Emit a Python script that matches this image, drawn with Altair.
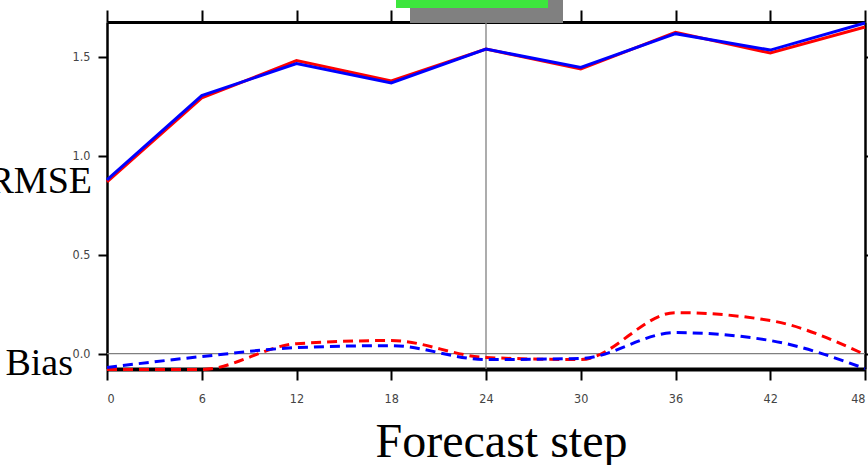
import altair as alt
import pandas as pd

# ---- data ----
steps = [0, 6, 12, 18, 24, 30, 36, 42, 48]
rmse_red = [0.869, 1.293, 1.482, 1.379, 1.540, 1.439, 1.625, 1.520, 1.652]
rmse_blue = [0.879, 1.305, 1.467, 1.369, 1.540, 1.447, 1.618, 1.535, 1.672]
bias_red = [-0.080, -0.080, 0.050, 0.066, -0.020, -0.030, 0.207, 0.167, -0.005]
bias_blue = [-0.070, -0.015, 0.030, 0.040, -0.030, -0.025, 0.106, 0.066, -0.076]
y_ticks = [0.0, 0.5, 1.0, 1.5]
x_title = "Forecast step"
rmse_label = "RMSE"
bias_label = "Bias"

RED = "#ff0000"
BLUE = "#0000ff"
GRID = "#808080"
TICK_FONT = "Liberation Sans Narrow, DejaVu Sans Condensed, Arial Narrow, sans-serif"
SERIF = "Liberation Serif, Times New Roman, serif"

xs = alt.Scale(domain=[0, 48], nice=False, zero=False)
ys = alt.Scale(domain=[-0.078, 1.677], nice=False, zero=False)

def frame(vals):
    return pd.DataFrame({"step": steps, "value": vals})

ax_bottom = alt.Axis(
    orient="bottom", values=steps, grid=False, format="d",
    tickSize=11, tickWidth=2, tickColor="black",
    domainWidth=4, domainColor="black",
    labelFont=TICK_FONT, labelFontSize=12.5, labelColor="#444444", labelPadding=12,
    title=x_title, titleFont=SERIF, titleFontSize=48, titleFontWeight="normal",
    titleColor="black", titleX=394, titleY=87, titleBaseline="alphabetic",
)
ax_top = alt.Axis(
    orient="top", values=steps, grid=False, labels=False, title=None,
    tickSize=12, tickWidth=2, tickColor="black",
    domainWidth=3, domainColor="black",
)
ax_left = alt.Axis(
    orient="left", values=y_ticks, grid=False, format=".1f", title=None,
    tickSize=9, tickWidth=2, tickColor="black",
    domainWidth=2.5, domainColor="black",
    labelFont=TICK_FONT, labelFontSize=12.5, labelColor="#444444", labelPadding=8,
)
ax_right = alt.Axis(
    orient="right", values=y_ticks, grid=False, labels=False, title=None,
    tickSize=9, tickWidth=2, tickColor="black",
    domainWidth=2.5, domainColor="black",
)

zero_rule = alt.Chart(pd.DataFrame({"v": [0.0]})).mark_rule(
    color=GRID, strokeWidth=1.3
).encode(y=alt.Y("v:Q", scale=ys, axis=None))

mid_rule = alt.Chart(pd.DataFrame({"s": [24]})).mark_rule(
    color=GRID, strokeWidth=1.3
).encode(x=alt.X("s:Q", scale=xs, axis=None))

rmse_r = alt.Chart(frame(rmse_red)).mark_line(color=RED, strokeWidth=3).encode(
    x=alt.X("step:Q", scale=xs, axis=ax_bottom),
    y=alt.Y("value:Q", scale=ys, axis=ax_left),
)
rmse_b = alt.Chart(frame(rmse_blue)).mark_line(color=BLUE, strokeWidth=3).encode(
    x=alt.X("step:Q", scale=xs, axis=ax_top),
    y=alt.Y("value:Q", scale=ys, axis=ax_right),
)
bias_r = alt.Chart(frame(bias_red)).mark_line(
    color=RED, strokeWidth=3, strokeDash=[10, 6], interpolate="monotone"
).encode(
    x=alt.X("step:Q", scale=xs, axis=None),
    y=alt.Y("value:Q", scale=ys, axis=None),
)
bias_b = alt.Chart(frame(bias_blue)).mark_line(
    color=BLUE, strokeWidth=3, strokeDash=[10, 6], interpolate="monotone"
).encode(
    x=alt.X("step:Q", scale=xs, axis=None),
    y=alt.Y("value:Q", scale=ys, axis=None),
)

rmse_txt = alt.Chart(pd.DataFrame({"t": [rmse_label]})).mark_text(
    font=SERIF, fontSize=38, align="right", baseline="alphabetic", color="black"
).encode(text="t:N", x=alt.value(-15), y=alt.value(171))

bias_txt = alt.Chart(pd.DataFrame({"t": [bias_label]})).mark_text(
    font=SERIF, fontSize=38, align="right", baseline="alphabetic", color="black"
).encode(text="t:N", x=alt.value(-34), y=alt.value(353))

# truncated legend box at the top
legend_box = alt.Chart(pd.DataFrame({"k": [1]})).mark_rect(color="#808080").encode(
    x=alt.value(303), x2=alt.value(456), y=alt.value(-22), y2=alt.value(1)
)
legend_swatch = alt.Chart(pd.DataFrame({"k": [1]})).mark_rect(color="#3de63d").encode(
    x=alt.value(289), x2=alt.value(441), y=alt.value(-22), y2=alt.value(-14)
)

chart = alt.layer(
    zero_rule, mid_rule, rmse_r, rmse_b, bias_r, bias_b,
    rmse_txt, bias_txt, legend_box, legend_swatch,
).resolve_axis(x="independent", y="independent").properties(
    width=758, height=347,
    padding={"left": 107, "top": 22, "right": 3, "bottom": 96},
    autosize="none", background="white",
).configure_view(stroke=None)

chart.save("out.html", embed_options={"renderer": "svg", "actions": False})
